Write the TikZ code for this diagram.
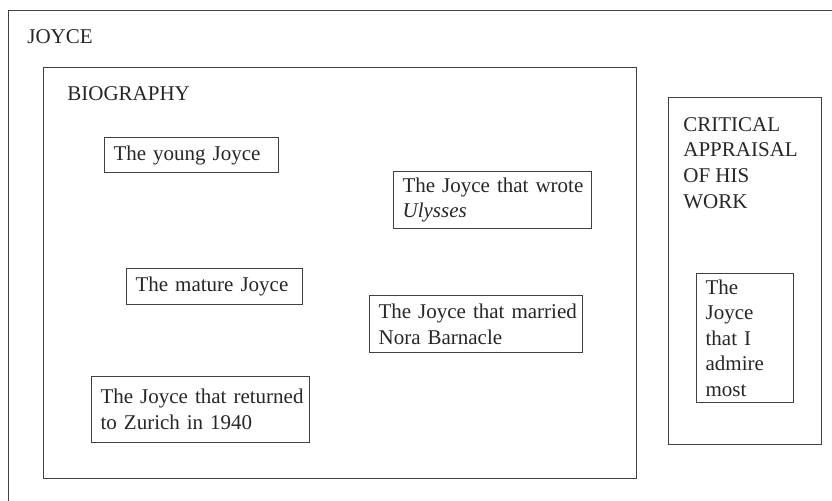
\documentclass[tikz,border=0pt]{standalone}
\usepackage{fontspec}
\setmainfont{Liberation Serif}

\begin{document}
\begin{tikzpicture}[
    x=0.5pt,y=-0.5pt,
    txt/.style={font={\fontsize{10.5pt}{12.8pt}\selectfont},text=black!85},
    frame/.style={draw=black!75,line width=0.6pt,anchor=north west,inner sep=0pt},
    label/.style={txt,inner sep=0pt,align=left},
    box/.style={txt,draw=black!75,line width=0.6pt,anchor=north west,
        inner xsep=4.5pt,inner ysep=3pt,align=left},
    ]

    % Page area
    \clip (0,0) rectangle (832,500);

    % Outer frame
    \node[frame,minimum width=420pt,minimum height=255pt] (joyce) at (8,10) {};
    \node[label,anchor=base west] (joycelbl) at (27,43) {JOYCE};

    % Biography
    \node[frame,minimum width=296.5pt,minimum height=205.5pt] (bio) at (43,67) {};
    \node[label,anchor=base west] (biolbl) at (67,100) {BIOGRAPHY};

    \node[box,text width=78pt,minimum height=17.5pt] (young) at (104,137) {\mbox{The young Joyce}};
    \node[box,text width=90pt,minimum height=28.5pt] (ulysses) at (393,171) {\mbox{The Joyce that wrote}\\\textit{Ulysses}};
    \node[box,text width=79pt,minimum height=18pt] (mature) at (126,268) {\mbox{The mature Joyce}};
    \node[box,text width=97.5pt,minimum height=28.5pt] (married) at (369,295) {\mbox{The Joyce that married}\\\mbox{Nora Barnacle}};
    \node[box,text width=99.8pt,minimum height=33pt] (zurich) at (91,376) {\mbox{The Joyce that returned}\\\mbox{to Zurich in 1940}};

    % Critical appraisal
    \node[frame,minimum width=76.5pt,minimum height=173.5pt] (crit) at (668,97) {};
    \node[label,anchor=north west] (critlbl) at (683,117) {CRITICAL\\APPRAISAL\\OF HIS\\WORK};

    \node[box,text width=39.5pt,minimum height=64pt] (admire) at (696,273) {The\\Joyce\\that I\\admire\\most};

\end{tikzpicture}
\end{document}
